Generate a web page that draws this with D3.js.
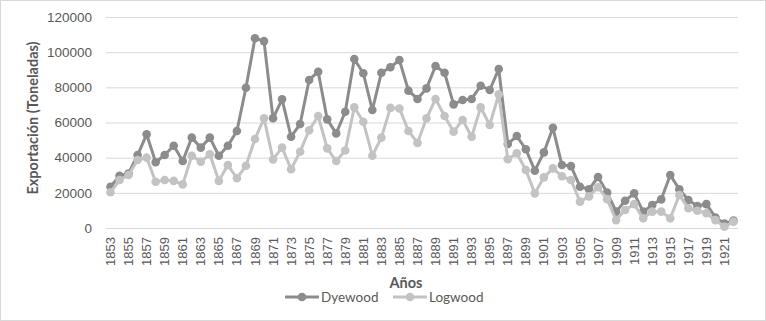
<!DOCTYPE html>
<html>
<head>
<meta charset="utf-8">
<script src="https://cdn.jsdelivr.net/npm/d3@7"></script>
<style>
  body { margin: 0; background: #fff; }
  svg { display: block; font-family: Lato, "Open Sans", sans-serif; }
</style>
</head>
<body>
<svg id="chart" width="766" height="321"></svg>
<script>
// data
const years = d3.range(1853, 1923)
const dyewood = [23500, 29700, 31000, 41500, 53300, 37400, 41500, 46800, 38100, 51400,
  45700, 51400, 41100, 46800, 55200, 79800, 107900, 106300, 62400, 73200,
  51900, 59100, 84200, 88900, 61800, 53800, 66100, 96100, 88000, 67100,
  88300, 91400, 95500, 78100, 73400, 79400, 92100, 88300, 70300, 72800,
  73400, 80900, 78500, 90400, 47800, 52300, 44800, 32600, 43000, 57000,
  35800, 35200, 23500, 22000, 29000, 20200, 9300, 15500, 19700, 9300,
  13100, 16300, 30100, 22000, 15900, 12500, 13600, 6000, 2500, 4200]
const logwood = [20300, 27300, 30100, 38700, 40000, 26300, 27300, 26800, 24800, 41100,
  37700, 41900, 26800, 35800, 28300, 35400, 50600, 62400, 39000, 45700,
  33400, 43400, 55600, 63700, 45300, 38100, 44100, 68600, 60400, 41100,
  51400, 68300, 68000, 55200, 48400, 62400, 73400, 63700, 54800, 61400,
  51900, 68600, 58600, 76000, 39100, 42500, 33000, 19700, 28800, 33900,
  29400, 27300, 15000, 18000, 23200, 16400, 4500, 10200, 13600, 5500,
  9300, 9300, 5500, 18800, 11200, 9800, 8400, 4500, 700, 3600]
const yTicks = [0, 20000, 40000, 60000, 80000, 100000, 120000]
const series = [
  { name: "Dyewood", values: dyewood, color: "#8c8c8c" },
  { name: "Logwood", values: logwood, color: "#c3c3c3" }
]

// render

const svg = d3.select("#chart")
const textColor = "#595959"

svg.append("rect")
  .attr("x", 0.5).attr("y", 0.5).attr("width", 765).attr("height", 320)
  .attr("fill", "#fff").attr("stroke", "#d9d9d9")

const x = d3.scaleBand().domain(years).range([106, 738])
const y = d3.scaleLinear().domain([0, 120000]).range([228, 17])
const cx = d => x(d) + x.bandwidth() / 2

// grid + y labels
const yAxis = svg.append("g")
  .attr("transform", "translate(106,0)")
  .call(d3.axisLeft(y).tickValues(yTicks).tickSize(-632).tickFormat(d3.format("d")).tickPadding(14))
yAxis.select(".domain").remove()
yAxis.selectAll("line").attr("stroke", "#d9d9d9")
yAxis.selectAll("text").attr("fill", textColor).style("font-size", "13.5px")

// x labels, every second year
const xAxis = svg.append("g")
  .attr("transform", "translate(0,228)")
  .call(d3.axisBottom(x).tickValues(years.filter((d, i) => i % 2 == 0)).tickSize(0).tickPadding(0))
xAxis.select(".domain").remove()
xAxis.selectAll("text")
  .attr("fill", textColor).style("font-size", "13px")
  .attr("transform", "rotate(-90)")
  .attr("text-anchor", "end")
  .attr("x", -9).attr("y", 0).attr("dy", "0.35em")

// lines
const line = d3.line().x((d, i) => cx(years[i])).y(d => y(d))
series.forEach(s => {
  const g = svg.append("g")
  g.append("path").datum(s.values)
    .attr("d", line).attr("fill", "none")
    .attr("stroke", s.color).attr("stroke-width", 3).attr("stroke-linejoin", "round")
  g.selectAll("circle").data(s.values).join("circle")
    .attr("cx", (d, i) => cx(years[i])).attr("cy", d => y(d))
    .attr("r", 4.3).attr("fill", s.color)
})

// titles
svg.append("text")
  .attr("transform", "translate(38,118) rotate(-90)")
  .attr("text-anchor", "middle")
  .attr("fill", textColor).style("font-size", "14.5px").style("font-weight", "bold")
  .text("Exportación (Toneladas)")
svg.append("text")
  .attr("x", 406).attr("y", 288)
  .attr("text-anchor", "middle")
  .attr("fill", textColor).style("font-size", "14.5px").style("font-weight", "bold")
  .text("Años")

// legend
const legendX = [285, 393]
series.forEach((s, i) => {
  const g = svg.append("g").attr("transform", `translate(${legendX[i]},297)`)
  g.append("line").attr("x1", 0).attr("x2", 34).attr("y1", 0).attr("y2", 0)
    .attr("stroke", s.color).attr("stroke-width", 3)
  g.append("circle").attr("cx", 17).attr("cy", 0).attr("r", 4.3).attr("fill", s.color)
  g.append("text").attr("x", 36).attr("y", 0).attr("dy", "0.35em")
    .attr("fill", textColor).style("font-size", "13.5px")
    .text(s.name)
})
</script>
</body>
</html>
